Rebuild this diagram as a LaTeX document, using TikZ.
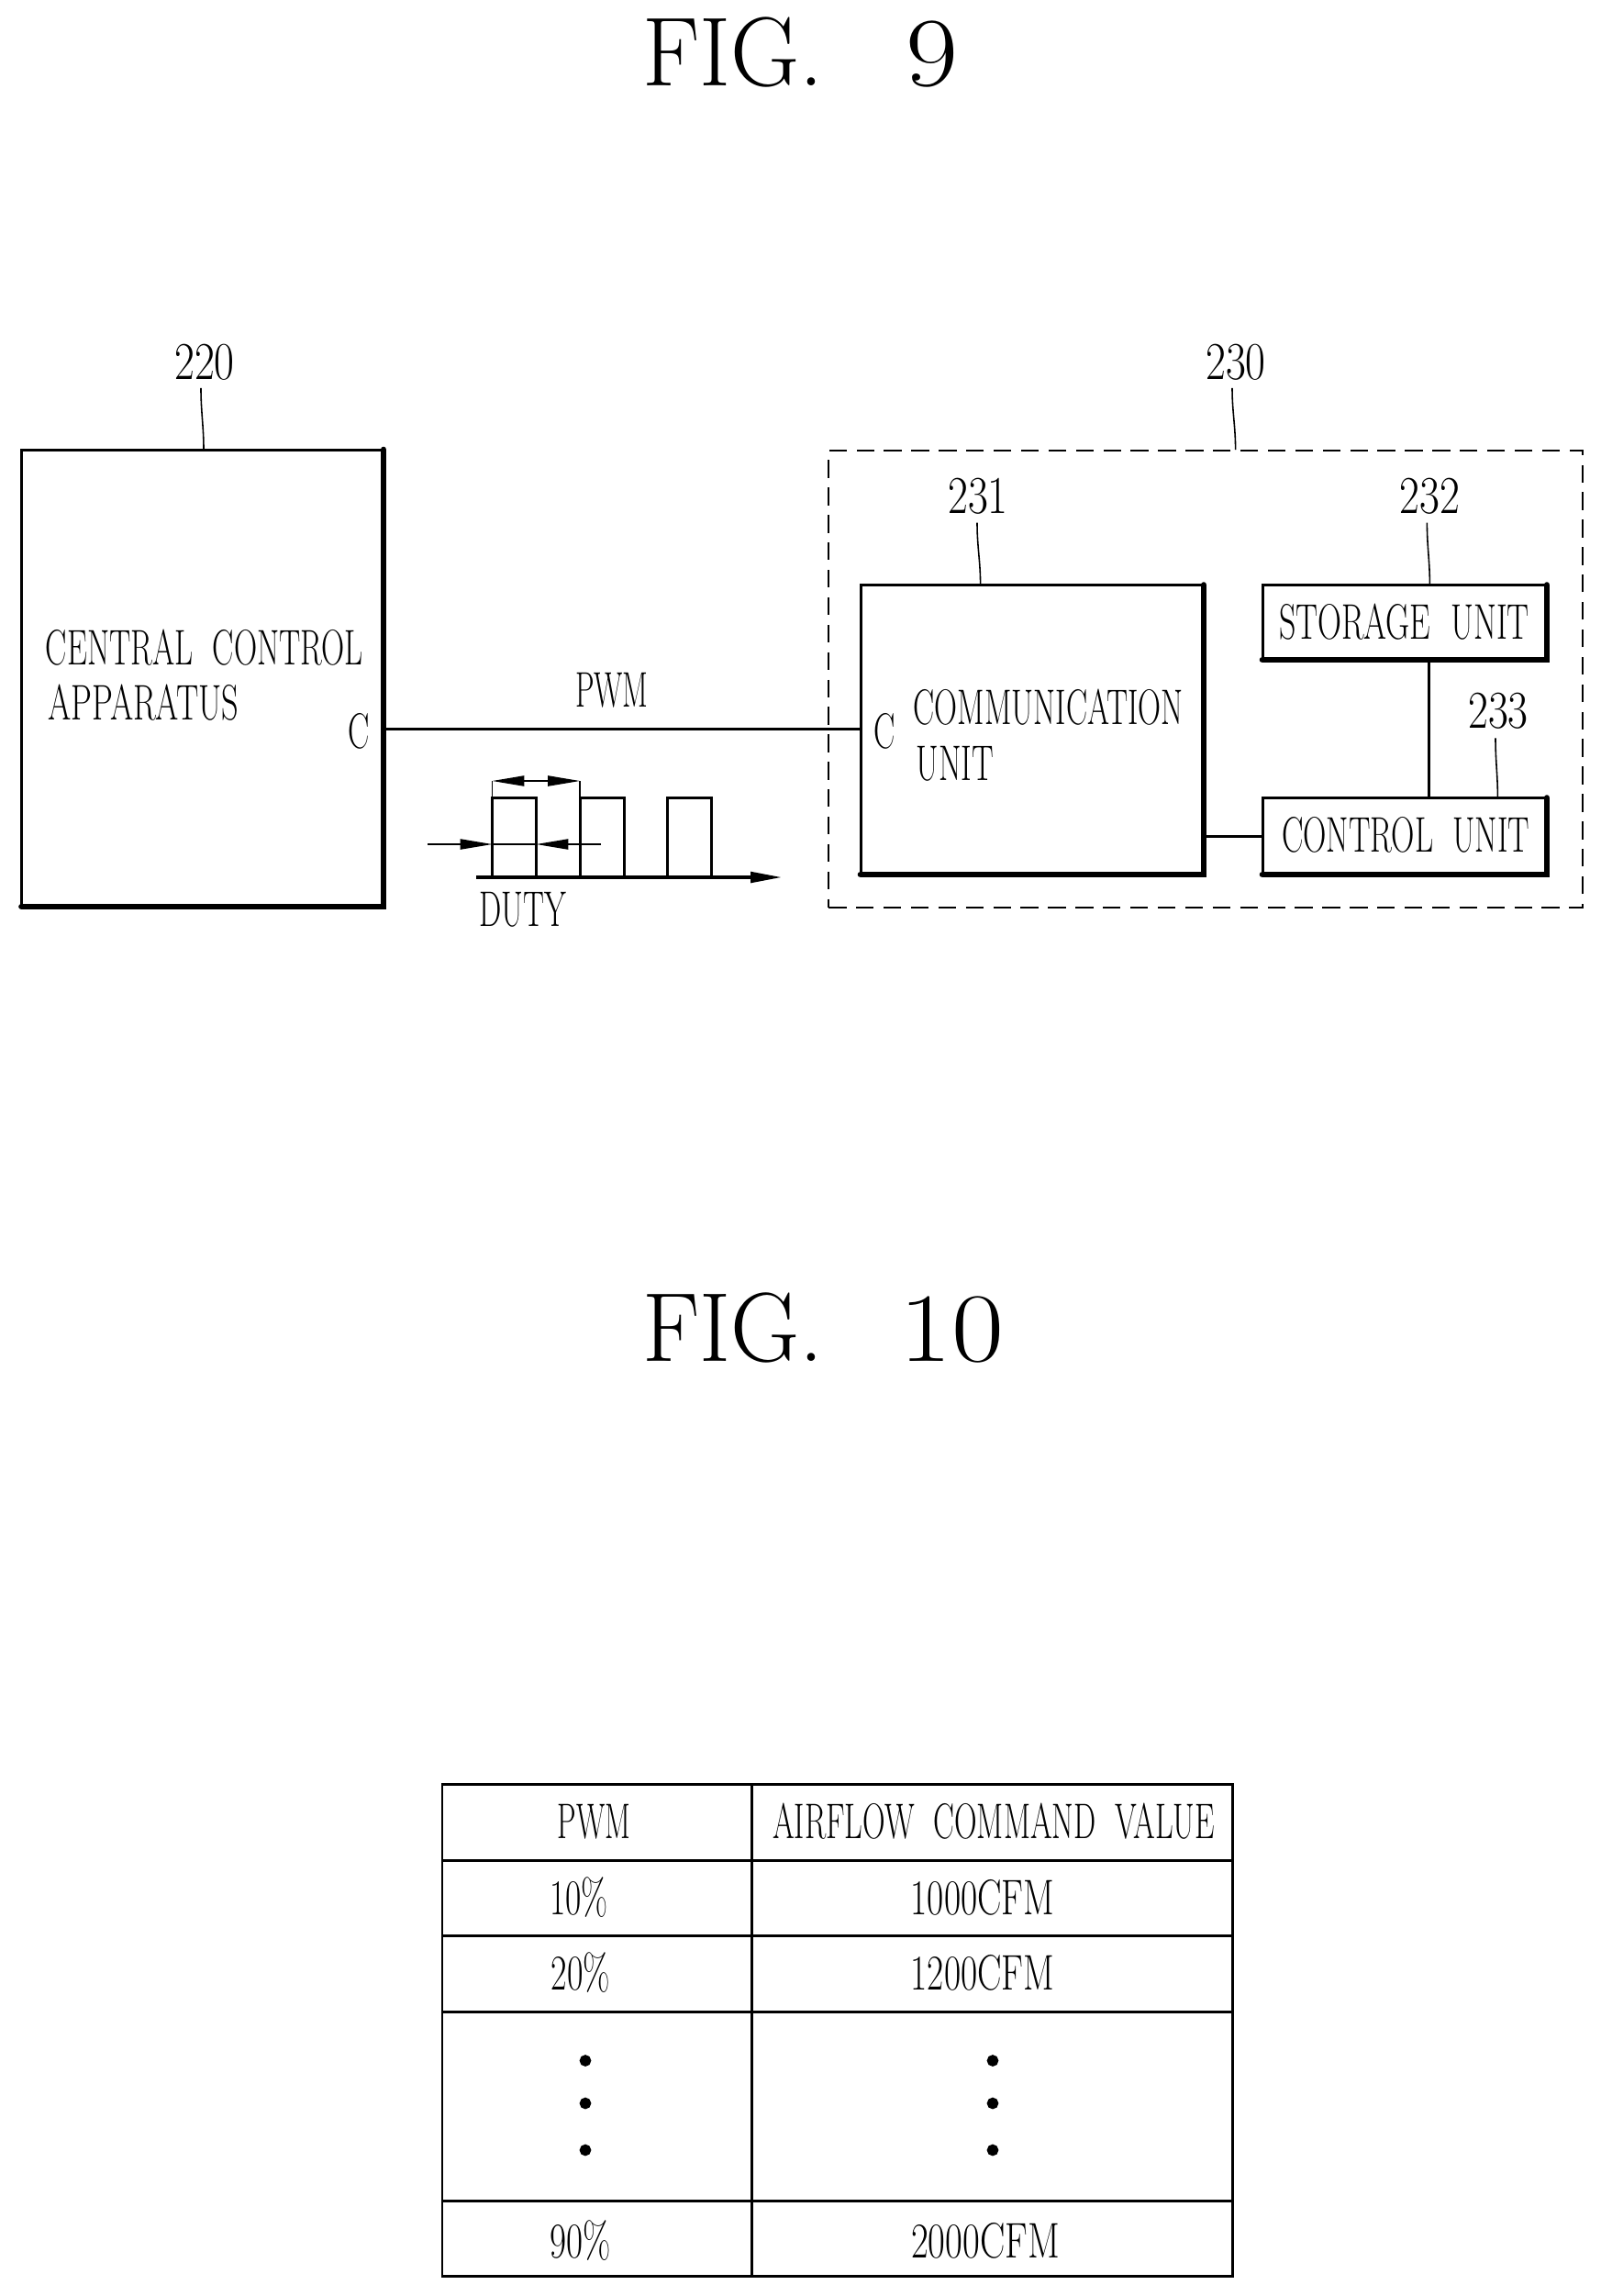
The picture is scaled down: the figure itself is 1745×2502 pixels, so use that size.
\documentclass[tikz,border=0pt]{standalone}
\usepackage{graphicx}
\usepackage{amsmath}
\usetikzlibrary{arrows.meta}

\newcommand{\cond}[2][0.64]{\scalebox{#1}[1]{#2}}

\tikzset{
    unitbox/.style={draw=black, line width=0.85pt, anchor=north west, inner sep=0pt, outer sep=0pt},
    shadowline/.style={black, line width=1.9pt, line cap=round},
    lbl/.style={anchor=base west, inner sep=0pt, outer sep=0pt, font=\fontsize{15.5}{17}\selectfont},
    num/.style={anchor=base, inner sep=0pt, outer sep=0pt, font=\fontsize{16.5}{17}\selectfont},
    cell/.style={anchor=base, inner sep=0pt, outer sep=0pt, font=\fontsize{15.5}{17}\selectfont},
    figlbl/.style={anchor=base west, inner sep=0pt, outer sep=0pt, font=\fontsize{30.4}{32}\selectfont},
    leader/.style={black, line width=0.45pt},
    wire/.style={black, line width=0.85pt},
    thinline/.style={black, line width=0.4pt},
    dim/.style={{Triangle[length=9.9pt,width=3.2pt]}-{Triangle[length=9.9pt,width=3.2pt]}, black, line width=0.4pt},
    tip/.style={-{Triangle[length=9.9pt,width=3.2pt]}, black, line width=0.4pt},
}

\begin{document}
\begin{tikzpicture}[x=0.01cm, y=-0.01cm]
    \useasboundingbox (0, 0) rectangle (1745, 2502);

    % FIG. 9
    \node[figlbl] (fignine) at (700, 93) {\cond[0.97]{FIG.}\hspace{25.5pt}\cond[1.16]{9}};

    \node[unitbox, minimum width=394.5*0.01cm, minimum height=498*0.01cm] (cca) at (23.5, 490) {};
    \draw[shadowline] (cca.north east) -- (cca.south east) -- (cca.south west);
    \node[lbl] (ccatexta) at (50, 724.5) {\cond{CENTRAL\ \ CONTROL}};
    \node[lbl] (ccatextb) at (52, 784) {\cond[0.667]{APPARATUS}};
    \node[lbl, anchor=base] (cport) at (391, 815.5) {\cond{C}};

    \node[draw=black, dashed, dash pattern=on 5.5pt off 3pt, line width=0.7pt, anchor=north west, inner sep=0pt,
        minimum width=822*0.01cm, minimum height=498*0.01cm] (modbox) at (902, 490) {};

    \node[unitbox, minimum width=374*0.01cm, minimum height=315.5*0.01cm] (comm) at (938, 637.5) {};
    \draw[shadowline] (comm.north east) -- (comm.south east) -- (comm.south west);
    \node[lbl] (commtexta) at (995.8, 789.5) {\cond[0.635]{COMMUNICATION}};
    \node[lbl] (commtextb) at (998.6, 850) {\cond[0.65]{UNIT}};
    \node[lbl, anchor=base] (commport) at (964.4, 815.5) {\cond{C}};

    \node[unitbox, minimum width=310*0.01cm, minimum height=81.5*0.01cm] (storage) at (1376, 637.5) {};
    \draw[shadowline] (storage.north east) -- (storage.south east) -- (storage.south west);
    \node[lbl] (storagetext) at (1394, 696) {\cond[0.66]{STORAGE\ \ UNIT}};

    \node[unitbox, minimum width=310*0.01cm, minimum height=83.5*0.01cm] (control) at (1376, 869.5) {};
    \draw[shadowline] (control.north east) -- (control.south east) -- (control.south west);
    \node[lbl] (controltext) at (1397, 928.5) {\cond[0.645]{CONTROL\ \ UNIT}};

    % connections
    \coordinate (pwmy) at (0, 794.5);
    \coordinate (linky) at (0, 911.5);
    \coordinate (tapx) at (1557, 0);
    \draw[wire] (cca.east |- pwmy) -- (comm.west |- pwmy);
    \draw[wire] (comm.east |- linky) -- (control.west |- linky);
    \draw[wire] (storage.south -| tapx) -- (control.north -| tapx);
    \node[lbl, anchor=base] (pwmtext) at (667, 770) {\cond[0.6]{PWM}};

    % reference numerals
    \node[num] (n220) at (223, 413) {\cond[0.82]{220}};
    \node[num] (n230) at (1347, 413) {\cond[0.82]{230}};
    \node[num] (n231) at (1066, 559.8) {\cond[0.82]{231}};
    \node[num] (n232) at (1558.4, 559.8) {\cond[0.82]{232}};
    \node[num] (n233) at (1633, 793.5) {\cond[0.82]{233}};
    \coordinate (c220) at (222, 0);
    \coordinate (c230) at (1346.6, 0);
    \coordinate (c231) at (1068.6, 0);
    \coordinate (c232) at (1558.4, 0);
    \coordinate (c233) at (1632.4, 0);
    \draw[leader] ([shift={(-4, 9)}]n220.south) to[out=-90, in=90] (cca.north -| c220);
    \draw[leader] ([shift={(-4, 9)}]n230.south) to[out=-90, in=90] (modbox.north -| c230);
    \draw[leader] ([shift={(-1, 9)}]n231.south) to[out=-90, in=90] (comm.north -| c231);
    \draw[leader] ([shift={(-3, 9)}]n232.south) to[out=-90, in=90] (storage.north -| c232);
    \draw[leader] ([shift={(-3, 10)}]n233.south) to[out=-90, in=90] (control.north -| c233);

    % pulse train
    \foreach \px in {536.5, 632, 727.5} {
        \draw[wire] (\px, 956) -- (\px, 869.5) -- (\px + 48, 869.5) -- (\px + 48, 956);
    }
    \draw[black, line width=1.2pt, -{Triangle[length=9.9pt,width=3.2pt]}] (519, 956) -- (853, 956);
    \draw[thinline] (536.5, 869.5) -- (536.5, 851);
    \draw[thinline] (632, 869.5) -- (632, 851);
    \draw[dim] (536.5, 851) -- (632, 851);
    \draw[tip] (466, 920) -- (536.5, 920);
    \draw[tip] (655, 920) -- (584.5, 920);
    \draw[thinline] (536.5, 920) -- (584.5, 920);
    \node[lbl, anchor=base] (dutytext) at (570, 1009) {\cond[0.63]{DUTY}};

    % FIG. 10
    \node[figlbl] (figten) at (700, 1483) {\cond[0.97]{FIG.}\hspace{23.6pt}\cond[1.16]{10}};

    \draw[wire] (482, 1944) rectangle (1343, 2480.5);
    \draw[wire] (819.5, 1944) -- (819.5, 2480.5);
    \foreach \ry in {2027, 2109.5, 2192, 2398} {
        \draw[wire] (482, \ry) -- (1343, \ry);
    }
    \node[cell] (hpwm) at (647.7, 2003) {\cond[0.6]{PWM}};
    \node[cell] (hval) at (1083, 2003) {\cond[0.627]{AIRFLOW\ \ COMMAND\ \ VALUE}};
    \node[cell] (pa) at (631, 2086.7) {\cond[0.69]{10\%}};
    \node[cell] (va) at (1071, 2086.7) {\cond[0.726]{1000CFM}};
    \node[cell] (pb) at (633, 2168.5) {\cond[0.7]{20\%}};
    \node[cell] (vb) at (1071, 2168.5) {\cond[0.726]{1200CFM}};
    \node[cell] (pc) at (633, 2460) {\cond[0.72]{90\%}};
    \node[cell] (vc) at (1074, 2460) {\cond[0.75]{2000CFM}};
    \foreach \dy in {2245.5, 2292, 2343} {
        \filldraw [black] (638, \dy) circle (1.6pt);
        \filldraw [black] (1082, \dy) circle (1.6pt);
    }
\end{tikzpicture}
\end{document}
